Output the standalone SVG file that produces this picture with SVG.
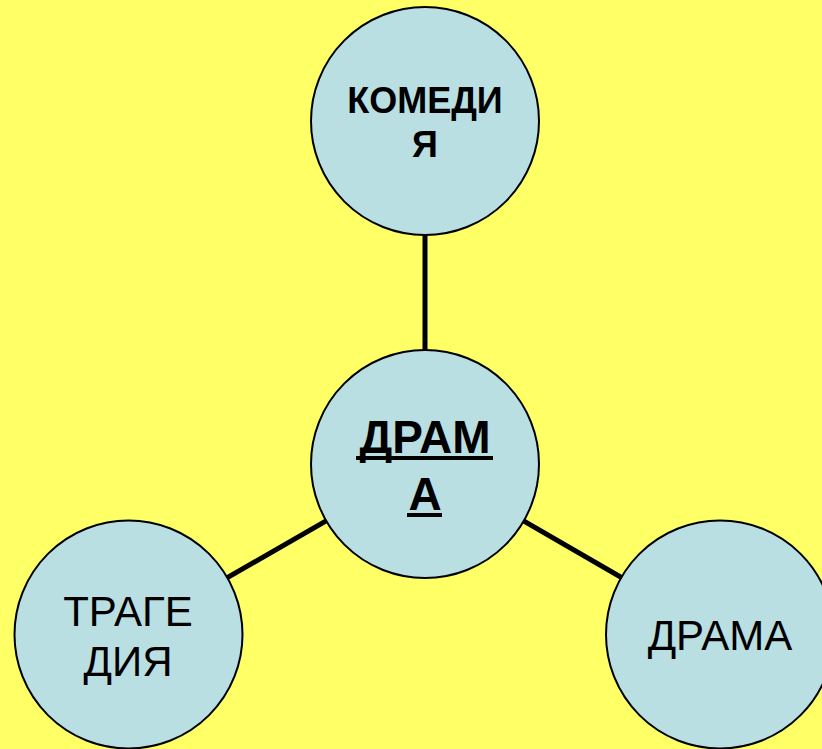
<svg xmlns="http://www.w3.org/2000/svg" width="822" height="749" viewBox="0 0 822 749">
<style>
.node{fill:#B9DFE3;stroke:#000;stroke-width:2}
.t{font-family:"Liberation Sans",Arial,sans-serif;fill:#000;text-anchor:middle}
.b{font-weight:bold}
.conn line{stroke:#000;stroke-width:5}
.ul{fill:#000}
</style>
<rect width="822" height="749" fill="#FFFF66"/>
<g id="connectors" class="conn">
<line x1="425" y1="121" x2="425" y2="464"/>
<line x1="425" y1="464" x2="128.5" y2="634.5"/>
<line x1="425" y1="464" x2="720" y2="634.5"/>
</g>
<g id="komedia">
<circle class="node" cx="425" cy="121" r="114"/>
<text class="t b" x="425" y="113" font-size="36">КОМЕДИ</text>
<text class="t b" x="425" y="157" font-size="36">Я</text>
</g>
<g id="drama-center">
<circle class="node" cx="425" cy="464" r="114"/>
<text class="t b" x="425" y="453" font-size="46">ДРАМ</text>
<rect class="ul" x="356" y="456" width="137" height="4"/>
<text class="t b" x="425" y="510" font-size="46">А</text>
<rect class="ul" x="407" y="513" width="35" height="4"/>
</g>
<g id="tragedia">
<circle class="node" cx="128.5" cy="634.5" r="114"/>
<text class="t" x="128" y="626" font-size="42">ТРАГЕ</text>
<text class="t" x="128" y="676" font-size="42">ДИЯ</text>
</g>
<g id="drama">
<circle class="node" cx="720" cy="634.5" r="114"/>
<text class="t" x="720" y="650" font-size="42">ДРАМА</text>
</g>
</svg>
